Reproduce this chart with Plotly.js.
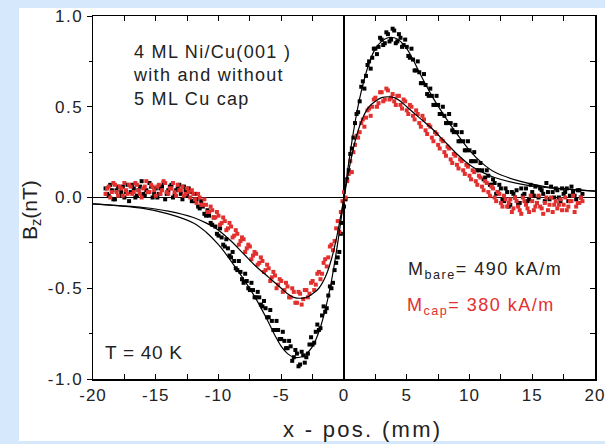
<!DOCTYPE html>
<html><head><meta charset="utf-8">
<script src="https://cdn.plot.ly/plotly-3.0.1.min.js"></script>
<style>html,body{margin:0;padding:0;background:#d6e9fc;} #chart{width:605px;height:444px;}</style>
</head><body><div id="chart"></div>
<script>
// ---- data ----
const xPos = [
 -19,-18.75,-18.5,-18.25,-18,-17.75,-17.5,-17.25,
 -17,-16.75,-16.5,-16.25,-16,-15.75,-15.5,-15.25,
 -15,-14.75,-14.5,-14.25,-14,-13.75,-13.5,-13.25,
 -13,-12.75,-12.5,-12.25,-12,-11.75,-11.5,-11.25,
 -11,-10.75,-10.5,-10.25,-10,-9.75,-9.5,-9.25,
 -9,-8.75,-8.5,-8.25,-8,-7.75,-7.5,-7.25,
 -7,-6.75,-6.5,-6.25,-6,-5.75,-5.5,-5.25,
 -5,-4.75,-4.5,-4.25,-4,-3.75,-3.5,-3.25,
 -3,-2.75,-2.5,-2.25,-2,-1.75,-1.5,-1.25,
 -1,-0.75,-0.5,-0.25,0,0.25,0.5,0.75,
 1,1.25,1.5,1.75,2,2.25,2.5,2.75,
 3,3.25,3.5,3.75,4,4.25,4.5,4.75,
 5,5.25,5.5,5.75,6,6.25,6.5,6.75,
 7,7.25,7.5,7.75,8,8.25,8.5,8.75,
 9,9.25,9.5,9.75,10,10.25,10.5,10.75,
 11,11.25,11.5,11.75,12,12.25,12.5,12.75,
 13,13.25,13.5,13.75,14,14.25,14.5,14.75,
 15,15.25,15.5,15.75,16,16.25,16.5,16.75,
 17,17.25,17.5,17.75,18,18.25,18.5,18.75,
 19
];
const bzBare = [
 0.05,0.01,0.04,-0.01,0.06,0.03,0.00,0.07,
 0.03,0.05,0.01,0.06,0.02,0.04,0.08,0.00,
 0.05,0.02,0.06,-0.01,0.04,0.07,0.01,0.05,
 0.02,0.06,0.01,0.03,-0.02,-0.01,-0.06,-0.05,
 -0.10,-0.10,-0.15,-0.16,-0.21,-0.22,-0.27,-0.28,
 -0.33,-0.35,-0.40,-0.41,-0.47,-0.46,-0.51,-0.51,
 -0.55,-0.55,-0.60,-0.61,-0.66,-0.68,-0.73,-0.73,
 -0.78,-0.79,-0.83,-0.82,-0.88,-0.86,-0.92,-0.87,
 -0.88,-0.81,-0.81,-0.74,-0.73,-0.65,-0.63,-0.54,
 -0.50,-0.40,-0.33,-0.20,-0.05,0.10,0.24,0.33,
 0.46,0.53,0.64,0.67,0.75,0.77,0.82,0.83,
 0.87,0.85,0.90,0.87,0.92,0.86,0.88,0.84,
 0.83,0.77,0.76,0.70,0.69,0.63,0.62,0.56,
 0.56,0.51,0.51,0.46,0.45,0.41,0.41,0.36,
 0.36,0.31,0.31,0.26,0.26,0.20,0.20,0.15,
 0.15,0.11,0.12,0.07,0.08,0.03,0.05,-0.02,
 0.03,-0.04,0.02,0.04,-0.03,0.01,0.05,-0.01,
 0.03,0.06,0.00,0.04,-0.02,0.03,0.06,0.00,
 0.04,-0.02,0.02,0.05,0.01,0.03,-0.01,0.04,
 0.02
];
const bzCap = [
 0.02,0.06,0.03,0.07,0.01,0.05,0.08,0.02,
 0.06,0.03,0.07,0.02,0.05,0.09,0.03,0.06,
 0.01,0.07,0.04,0.08,0.02,0.05,0.03,0.07,
 0.04,0.01,0.05,0.00,0.02,-0.03,0.00,-0.04,
 -0.04,-0.08,-0.07,-0.11,-0.10,-0.14,-0.13,-0.17,
 -0.16,-0.21,-0.20,-0.24,-0.23,-0.28,-0.27,-0.32,
 -0.31,-0.36,-0.35,-0.40,-0.39,-0.44,-0.43,-0.48,
 -0.46,-0.51,-0.49,-0.55,-0.52,-0.58,-0.53,-0.56,
 -0.51,-0.53,-0.46,-0.48,-0.41,-0.42,-0.34,-0.33,
 -0.26,-0.24,-0.13,-0.08,0.03,0.09,0.20,0.25,
 0.34,0.36,0.43,0.44,0.49,0.50,0.55,0.52,
 0.58,0.54,0.59,0.55,0.53,0.56,0.51,0.54,
 0.48,0.51,0.45,0.48,0.41,0.45,0.37,0.40,
 0.33,0.36,0.29,0.32,0.25,0.28,0.21,0.24,
 0.18,0.21,0.15,0.18,0.12,0.15,0.09,0.12,
 0.06,0.09,0.03,0.06,0.00,0.03,-0.03,0.01,
 -0.05,-0.01,-0.06,-0.02,-0.07,0.00,-0.04,-0.08,
 -0.02,-0.05,0.01,-0.06,-0.03,-0.07,0.00,-0.04,
 -0.06,-0.01,-0.04,-0.07,-0.02,0.01,-0.05,-0.03,
 -0.02
];
// second scan positions (interleaved samples)
const xPos2 = [
 -18.875,-18.625,-18.375,-18.125,-17.875,-17.625,-17.375,-17.125,
 -16.875,-16.625,-16.375,-16.125,-15.875,-15.625,-15.375,-15.125,
 -14.875,-14.625,-14.375,-14.125,-13.875,-13.625,-13.375,-13.125,
 -12.875,-12.625,-12.375,-12.125,-11.875,-11.625,-11.375,-11.125,
 -10.875,-10.625,-10.375,-10.125,-9.875,-9.625,-9.375,-9.125,
 -8.875,-8.625,-8.375,-8.125,-7.875,-7.625,-7.375,-7.125,
 -6.875,-6.625,-6.375,-6.125,-5.875,-5.625,-5.375,-5.125,
 -4.875,-4.625,-4.375,-4.125,-3.875,-3.625,-3.375,-3.125,
 -2.875,-2.625,-2.375,-2.125,-1.875,-1.625,-1.375,-1.125,
 -0.875,-0.625,-0.375,-0.125,0.125,0.375,0.625,0.875,
 1.125,1.375,1.625,1.875,2.125,2.375,2.625,2.875,
 3.125,3.375,3.625,3.875,4.125,4.375,4.625,4.875,
 5.125,5.375,5.625,5.875,6.125,6.375,6.625,6.875,
 7.125,7.375,7.625,7.875,8.125,8.375,8.625,8.875,
 9.125,9.375,9.625,9.875,10.125,10.375,10.625,10.875,
 11.125,11.375,11.625,11.875,12.125,12.375,12.625,12.875,
 13.125,13.375,13.625,13.875,14.125,14.375,14.625,14.875,
 15.125,15.375,15.625,15.875,16.125,16.375,16.625,16.875,
 17.125,17.375,17.625,17.875,18.125,18.375,18.625,18.875
];
const bzBare2 = [
 0.02,0.07,-0.01,0.04,0.01,0.06,0.03,-0.02,
 0.07,0.00,0.04,0.09,0.01,0.03,0.06,0.02,
 0.00,0.05,0.08,0.02,0.06,0.00,0.04,0.07,
 -0.01,0.04,0.05,-0.02,0.02,-0.05,-0.02,-0.09,
 -0.07,-0.14,-0.11,-0.20,-0.17,-0.26,-0.23,-0.32,
 -0.30,-0.39,-0.35,-0.45,-0.42,-0.50,-0.47,-0.55,
 -0.52,-0.59,-0.57,-0.66,-0.62,-0.73,-0.68,-0.78,
 -0.74,-0.83,-0.79,-0.90,-0.84,-0.93,-0.85,-0.91,
 -0.86,-0.77,-0.80,-0.70,-0.72,-0.60,-0.61,-0.49,
 -0.47,-0.36,-0.30,-0.14,-0.01,0.15,0.27,0.41,
 0.47,0.61,0.60,0.73,0.71,0.82,0.79,0.88,
 0.84,0.91,0.86,0.93,0.85,0.90,0.83,0.87,
 0.78,0.82,0.70,0.75,0.63,0.68,0.57,0.60,
 0.51,0.56,0.46,0.50,0.41,0.46,0.37,0.40,
 0.31,0.36,0.26,0.31,0.20,0.25,0.15,0.19,
 0.10,0.15,0.07,0.10,0.02,0.07,-0.01,0.05,
 -0.05,0.03,0.00,-0.04,0.05,0.02,-0.02,0.07,
 0.01,-0.03,0.05,0.02,0.08,-0.01,0.03,0.05,
 0.00,0.05,0.03,-0.02,0.06,0.01,0.04,0.00
];
const bzCap2 = [
 0.05,0.00,0.08,0.03,0.06,0.01,0.04,0.07,
 0.02,0.08,0.04,0.00,0.06,0.03,0.07,0.04,
 0.06,0.02,0.09,0.03,0.05,0.08,0.01,0.04,
 0.06,0.02,0.03,0.04,-0.01,0.02,-0.04,-0.01,
 -0.08,-0.05,-0.11,-0.08,-0.15,-0.11,-0.18,-0.14,
 -0.22,-0.18,-0.26,-0.22,-0.30,-0.26,-0.34,-0.30,
 -0.37,-0.33,-0.41,-0.37,-0.46,-0.41,-0.50,-0.45,
 -0.52,-0.47,-0.55,-0.50,-0.58,-0.52,-0.59,-0.51,
 -0.55,-0.47,-0.51,-0.42,-0.45,-0.36,-0.38,-0.27,
 -0.29,-0.17,-0.19,-0.02,0.00,0.13,0.14,0.29,
 0.33,0.41,0.39,0.48,0.45,0.54,0.50,0.58,
 0.53,0.60,0.54,0.57,0.51,0.56,0.49,0.53,
 0.46,0.50,0.43,0.46,0.39,0.43,0.35,0.39,
 0.31,0.35,0.27,0.31,0.23,0.27,0.19,0.23,
 0.16,0.20,0.13,0.17,0.10,0.14,0.07,0.11,
 0.04,0.08,0.01,0.05,-0.02,0.02,-0.05,-0.01,
 -0.03,-0.08,0.00,-0.05,-0.09,-0.02,-0.06,0.01,
 -0.07,-0.03,-0.05,-0.09,0.00,-0.04,-0.08,-0.02,
 -0.04,-0.07,0.00,-0.05,-0.02,-0.08,-0.03,0.00
];
const xFit = [-20,-18,-16,-14,-12,-11,-10,-9,-8,-7,-6,-5.5,-5,-4.5,-4,-3.5,-3,-2.5,-2,-1.5,-1,-0.5,
  0,0.5,1,1.5,2,2.5,3,3.5,4,4.5,5,5.5,6,7,8,9,10,11,12,14,16,18,20];
const fitBare = [-0.035,-0.045,-0.06,-0.09,-0.14,-0.19,-0.26,-0.35,-0.45,-0.56,-0.69,-0.76,-0.82,-0.86,-0.88,-0.88,-0.86,-0.82,-0.74,-0.62,-0.46,-0.25,
  0,0.25,0.46,0.62,0.74,0.82,0.86,0.88,0.88,0.86,0.82,0.76,0.69,0.56,0.45,0.35,0.26,0.19,0.14,0.09,0.06,0.045,0.035];
const fitCap = [-0.035,-0.045,-0.055,-0.075,-0.11,-0.14,-0.18,-0.24,-0.31,-0.38,-0.44,-0.47,-0.50,-0.53,-0.55,-0.555,-0.55,-0.53,-0.50,-0.44,-0.34,-0.19,
  0,0.19,0.34,0.44,0.50,0.53,0.55,0.555,0.55,0.53,0.50,0.47,0.44,0.38,0.31,0.24,0.18,0.14,0.11,0.075,0.055,0.045,0.035];
const xTickVals = [-20,-15,-10,-5,0,5,10,15,20];
const xTickText = ['-20','-15','-10','-5','0','5','10','15','20'];
const yTickVals = [-1,-0.5,0,0.5,1];
const yTickText = ['-1.0','-0.5','0.0','0.5','1.0'];

const RED = '#e2302e';
const FONT = 'Liberation Sans, Arial, sans-serif';
const sp = (t, ls) => '<span style="letter-spacing:' + ls + 'px">' + t + '</span>';

// plot-area pixel geometry helpers (for annotation placement in paper coords)
const L = 93, T = 16, W = 502, H = 363;
const px = x => (x - L) / W;
const py = y => (T + H - y) / H;

const mk = (c) => ({symbol: 'square', size: 4, color: c});
const traces = [
  {x: xPos, y: bzBare, type: 'scatter', mode: 'markers', marker: mk('#000')},
  {x: xPos2, y: bzBare2, type: 'scatter', mode: 'markers', marker: mk('#000')},
  {x: xPos, y: bzCap, type: 'scatter', mode: 'markers', marker: mk(RED)},
  {x: xPos2, y: bzCap2, type: 'scatter', mode: 'markers', marker: mk(RED)},
  {x: xFit, y: fitBare, type: 'scatter', mode: 'lines',
   line: {color: '#000', width: 1.2, shape: 'spline'}},
  {x: xFit, y: fitCap, type: 'scatter', mode: 'lines', yaxis: 'y2',
   line: {color: '#000', width: 1.2, shape: 'spline'}}
];

const layout = {
  width: 605, height: 444,
  margin: {l: L, r: 605 - L - W, t: T, b: 444 - T - H, pad: 0},
  paper_bgcolor: '#d6e9fc',
  plot_bgcolor: '#ffffff',
  showlegend: false,
  font: {family: FONT, color: '#222', size: 15},
  xaxis: {
    range: [-20, 20], tickmode: 'array', tickvals: xTickVals, ticktext: xTickText.map(t => sp(t, 1)),
    ticks: 'inside', ticklen: 5, tickcolor: '#000', tickwidth: 1, ticklabeloverflow: 'allow',
    minor: {tickmode: 'array', tickvals: [-17.5,-12.5,-7.5,-2.5,2.5,7.5,12.5,17.5], ticks: 'inside', ticklen: 5, tickcolor: '#000'},
    showline: true, linecolor: '#000', linewidth: 1.5, mirror: 'ticks',
    showgrid: false, zeroline: true, zerolinecolor: '#000', zerolinewidth: 1.5,
    tickfont: {size: 17, color: '#222'}
  },
  yaxis: {
    range: [-1, 1], tickmode: 'array', tickvals: yTickVals, ticktext: yTickText.map(t => sp(t, 1.5)),
    ticks: 'outside', ticklen: 5, tickcolor: '#000', ticklabeloverflow: 'allow',
    minor: {tickmode: 'array', tickvals: [-0.75,-0.25,0.25,0.75], ticks: 'outside', ticklen: 3, tickcolor: '#000'},
    showline: true, linecolor: '#000', linewidth: 1.5, mirror: false,
    showgrid: false, zeroline: true, zerolinecolor: '#000', zerolinewidth: 1.5,
    tickfont: {size: 17, color: '#222'}
  },
  yaxis2: {
    range: [-1, 1], overlaying: 'y', side: 'right', tickmode: 'array',
    tickvals: [-0.75,-0.5,-0.25,0,0.25,0.5,0.75], showticklabels: false,
    ticks: 'inside', ticklen: 5, tickcolor: '#000',
    showline: true, linecolor: '#000', linewidth: 1.5,
    showgrid: false, zeroline: false
  },
  shapes: [
    {type: 'rect', xref: 'paper', yref: 'paper', layer: 'below',
     x0: px(19), x1: px(606), y0: py(441), y1: py(8),
     fillcolor: '#ffffff', line: {width: 0}}
  ],
  annotations: [
    {xref: 'paper', yref: 'paper', x: px(131), y: py(75), xanchor: 'left', yanchor: 'middle',
     align: 'left', showarrow: false, font: {size: 18, color: '#222'},
     text: sp('4 ML Ni/Cu(001 )', 1.3) + '<br>' + sp('with and without', 1.3) + '<br>' + sp('5 ML Cu cap', 1.3)},
    {xref: 'paper', yref: 'paper', x: px(103), y: py(352), xanchor: 'left', yanchor: 'middle',
     showarrow: false, font: {size: 19, color: '#222'}, text: sp('T = 40 K', 0.7)},
    {xref: 'paper', yref: 'paper', x: px(406), y: py(270), xanchor: 'left', yanchor: 'middle',
     showarrow: false, font: {size: 18, color: '#222'}, text: sp('M<sub>bare</sub>= 490 kA/m', 1.5)},
    {xref: 'paper', yref: 'paper', x: px(405), y: py(306), xanchor: 'left', yanchor: 'middle',
     showarrow: false, font: {size: 18, color: RED}, text: sp('M<sub>cap</sub>= 380 kA/m', 1.5)},
    {xref: 'paper', yref: 'paper', x: px(362), y: py(429), xanchor: 'center', yanchor: 'middle',
     showarrow: false, font: {size: 22, color: '#222'}, text: sp('x - pos. (mm)', 2.3)},
    {xref: 'paper', yref: 'paper', x: px(31), y: py(210), xanchor: 'center', yanchor: 'middle',
     textangle: -90, showarrow: false, font: {size: 21, color: '#222'}, text: 'B<sub>z</sub>(nT)'}
  ]
};

Plotly.newPlot('chart', traces, layout, {displayModeBar: false, staticPlot: true});
</script></body></html>
